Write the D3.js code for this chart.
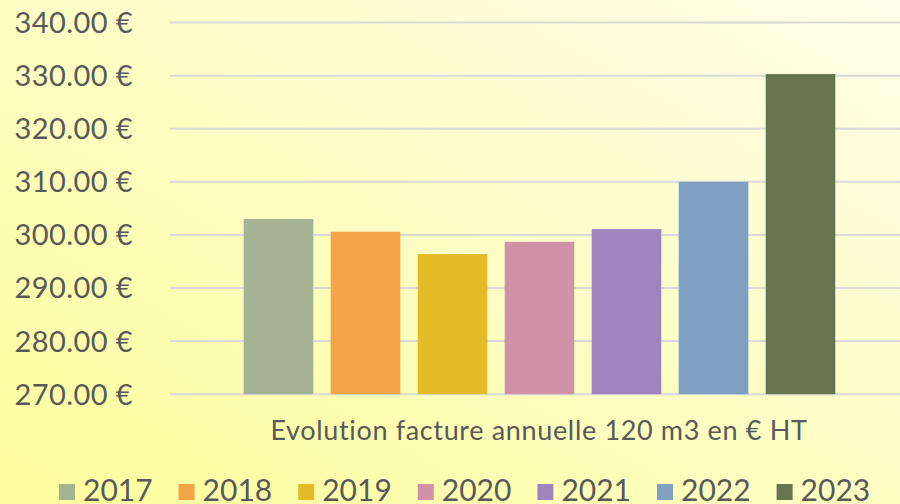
<!DOCTYPE html>
<html><head><meta charset="utf-8">
<script src="https://cdn.jsdelivr.net/npm/d3@7"></script>
<style>html,body{margin:0;padding:0;overflow:hidden;}svg{display:block;}</style>
</head><body>
<svg id="c" width="900" height="504"></svg>
<script>
const years = ["2017","2018","2019","2020","2021","2022","2023"];
const values = [303.0, 300.6, 296.4, 298.7, 301.1, 310.0, 330.3];
const colors = ["#a5b293","#f2a446","#e4bb27","#d092a7","#9f85c0","#7f9fc3","#647550"];
const yTicks = [270,280,290,300,310,320,330,340];
const title = "Evolution facture annuelle 120 m3 en € HT";

const svg = d3.select("#c");
const W = 900, H = 504;
const font = "Lato, 'Century Gothic', sans-serif";
const txt = "#595959";

const defs = svg.append("defs");
const g = defs.append("linearGradient").attr("id","bg")
  .attr("x1","100%").attr("y1","0%").attr("x2","0%").attr("y2","100%");
g.append("stop").attr("offset","0%").attr("stop-color","#fefee9");
g.append("stop").attr("offset","45%").attr("stop-color","#fdfdc8");
g.append("stop").attr("offset","100%").attr("stop-color","#fdfd9c");
svg.append("rect").attr("width",W).attr("height",H).attr("fill","url(#bg)");

const y = d3.scaleLinear().domain([270,340]).range([394.2,22.6]);
const x = d3.scaleBand().domain(years).range([235,844]).paddingInner(0.2).paddingOuter(0.1);

// gridlines
svg.append("g").selectAll("line").data(yTicks).join("line")
  .attr("x1",170).attr("x2",W)
  .attr("y1",d=>y(d)).attr("y2",d=>y(d))
  .attr("stroke","#d9d9d9").attr("stroke-width",2);

// y labels
const fmt = d => d3.format(".2f")(d) + " €";
svg.append("g").selectAll("text").data(yTicks).join("text")
  .attr("x",133).attr("y",d=>y(d)).attr("dy","0.36em")
  .attr("text-anchor","end").attr("fill",txt)
  .style("font-family",font).style("font-size","29px").style("letter-spacing","0.4px")
  .text(fmt);

// bars
svg.append("g").selectAll("rect").data(years).join("rect")
  .attr("x",d=>x(d)).attr("width",x.bandwidth())
  .attr("y",(d,i)=>y(values[i]))
  .attr("height",(d,i)=>y(270)-y(values[i]))
  .attr("fill",(d,i)=>colors[i]);

// category label
svg.append("text").attr("x",539).attr("y",440)
  .attr("text-anchor","middle").attr("fill",txt)
  .style("font-family",font).style("font-size","27px").style("letter-spacing","0.65px")
  .text(title);

// legend
const lg = svg.append("g").selectAll("g").data(years).join("g")
  .attr("transform",(d,i)=>`translate(${59 + i*119.6},0)`);
lg.append("rect").attr("x",0).attr("y",484).attr("width",16).attr("height",16)
  .attr("fill",(d,i)=>colors[i]);
lg.append("text").attr("x",24).attr("y",501)
  .attr("fill",txt).style("font-family",font).style("font-size","30px")
  .text(d=>d);
</script>
</body></html>
